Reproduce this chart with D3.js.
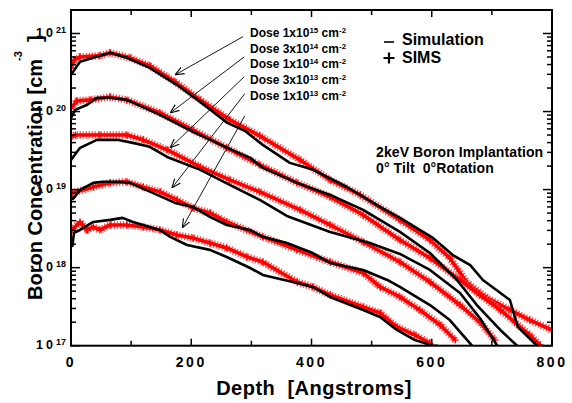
<!DOCTYPE html>
<html><head><meta charset="utf-8">
<script src="https://cdn.jsdelivr.net/npm/d3@7"></script>
<style>
body{margin:0;background:#fff}
text{font-family:"Liberation Sans",Arial,sans-serif;font-weight:bold;fill:#000}
</style>
</head><body>
<svg id="c" width="572" height="403"></svg>
<script>
// ---------- data ----------
const xTicks = [0, 200, 400, 600, 800];
const xMinorTicks = [100, 300, 500, 700];
const yDecades = [17, 18, 19, 20, 21];
const doses = [["1","15"],["3","14"],["1","14"],["3","13"],["1","13"]];

// Simulation (black lines): [depth Å, concentration cm^-3]
const sim1e15 = [[0,2.95e20],[15,4.34e20],[37,4.88e20],[65,5.66e20],[93,4.88e20],[131,3.63e20],[176,2.20e20],[215,1.33e20],[260,7.16e19],[289,5.66e19],[319,3.74e19],[364,2.20e19],[403,1.79e19],[459,1.08e19],[514,6.0e18],[547,4.34e18],[602,2.40e18],[635,1.45e18],[664,1.08e18],[685,6.95e17],[730,3.85e17],[743,1.74e17],[775,1e17]];
const sim3e14 = [[0,8.3e19],[7,1.05e20],[27,1.22e20],[43,1.50e20],[65,1.50e20],[93,1.41e20],[148,9.07e19],[203,5.49e19],[260,3.43e19],[298,2.55e19],[319,1.90e19],[376,1.22e19],[431,8.55e18],[486,5.49e18],[547,2.87e18],[597,1.54e18],[642,6.95e17],[675,3.32e17],[714,1.59e17],[742,1e17]];
const sim1e14 = [[0,2.40e19],[15,3.43e19],[43,4.34e19],[77,4.34e19],[103,3.97e19],[131,3.53e19],[160,2.62e19],[215,1.79e19],[264,1.15e19],[314,7.38e18],[359,4.6e18],[431,2.87e18],[497,2.07e18],[547,1.50e18],[597,9.35e17],[647,4.74e17],[680,2.26e17],[709,1e17]];
const sim3e13 = [[2,7.38e18],[15,9.9e18],[37,1.22e19],[53,1.26e19],[81,1.26e19],[98,1.22e19],[136,9.07e18],[173,6.75e18],[203,6.0e18],[231,4.47e18],[259,3.52e18],[298,3.04e18],[319,2.48e18],[359,2.07e18],[402,1.54e18],[431,1.15e18],[486,9.35e17],[526,6.95e17],[547,5.66e17],[597,3.32e17],[630,2.13e17],[667,1e17]];
const sim1e13 = [[2,1.84e18],[5,2.79e18],[15,3.04e18],[37,3.85e18],[65,4.09e18],[86,4.34e18],[103,3.85e18],[148,3.04e18],[165,2.48e18],[193,1.95e18],[231,1.69e18],[259,1.37e18],[298,9.9e17],[319,8.06e17],[376,6.37e17],[402,5.66e17],[431,4.21e17],[486,2.87e17],[514,2.33e17],[542,1.59e17],[572,1.18e17],[602,1e17],[610,1e17]];

// SIMS (red crosses): [depth Å, concentration cm^-3]
const sims1e15 = [[0,3.63e20],[5,4.6e20],[15,5.0e20],[48,5.2e20],[65,5.66e20],[98,4.88e20],[131,3.85e20],[173,2.40e20],[215,1.41e20],[264,7.83e19],[314,4.88e19],[381,2.40e19],[431,1.33e19],[481,8.55e18],[547,4.09e18],[597,2.26e18],[630,1.33e18],[659,6.37e17],[692,4.09e17],[730,2.87e17],[763,2.13e17],[800,1.59e17]];
const sims3e14 = [[0,1.11e20],[10,1.37e20],[32,1.41e20],[65,1.54e20],[93,1.41e20],[148,9.6e19],[203,5.8e19],[259,3.43e19],[314,2.07e19],[376,1.22e19],[431,8.06e18],[486,4.74e18],[547,2.26e18],[597,1.33e18],[647,6.95e17],[680,4.47e17],[714,2.87e17],[738,2.01e17],[763,1.37e17],[780,1.02e17]];
const sims1e14 = [[0,4.74e19],[7,5.0e19],[48,5.0e19],[93,5.0e19],[120,4.34e19],[160,3.23e19],[215,1.95e19],[264,1.33e19],[314,9.35e18],[381,5.49e18],[431,3.52e18],[486,2.13e18],[547,1.18e18],[597,6.55e17],[647,3.32e17],[680,2.01e17],[705,1.18e17]];
const sims3e13 = [[2,9.07e18],[37,1.08e19],[65,1.22e19],[93,1.26e19],[120,1.08e19],[148,9.35e18],[176,7.38e18],[203,5.82e18],[231,5.02e18],[259,3.85e18],[319,2.48e18],[376,1.69e18],[431,1.18e18],[486,8.55e17],[514,5.66e17],[547,4.21e17],[580,2.87e17],[614,1.84e17],[639,1.18e17]];
const sims1e13 = [[2,3.04e18],[15,3.85e18],[27,3.04e18],[37,3.32e18],[48,3.04e18],[65,3.52e18],[93,3.52e18],[120,3.32e18],[148,3.04e18],[176,2.62e18],[203,2.40e18],[231,2.07e18],[259,1.79e18],[293,1.37e18],[319,1.18e18],[376,6.55e17],[402,5.66e17],[431,4.47e17],[486,3.13e17],[514,2.62e17],[542,1.74e17],[572,1.37e17],[597,1.08e17]];

const simSeries = [sim1e15, sim3e14, sim1e14, sim3e13, sim1e13];
const simsSeries = [sims1e15, sims3e14, sims1e14, sims3e13, sims1e13];

// annotation arrows: label end -> curve point [depth, conc]
const arrowFrom = [[286,9.1e20],[288,5.0e20],[288,2.79e20],[289,1.69e20],[289,8.8e19]];
const arrowTo   = [[173,2.95e20],[165,9.6e19],[165,3.43e19],[168,1.05e19],[185,3.23e18]];

// ---------- drawing ----------
const svg = d3.select("#c");
const x = d3.scaleLinear().domain([0, 800]).range([71, 552]);
const y = d3.scaleLog().domain([1e17, 2e21]).range([345.7, 10]);

const defs = svg.append("defs");
defs.append("clipPath").attr("id","clip")
  .append("rect").attr("x",71).attr("y",10).attr("width",481).attr("height",335.7);

const line = d3.line().x(d => x(d[0])).y(d => y(d[1]));
const plot = svg.append("g").attr("clip-path","url(#clip)");

// SIMS bands (dense crosses look) + crosses at data points
simsSeries.forEach(s => {
  plot.append("path").attr("d", line(s)).attr("fill","none")
    .attr("stroke","#ff5050").attr("stroke-width",7.5).attr("stroke-dasharray","1.3,1.7")
    .attr("stroke-linejoin","round");
  plot.append("path").attr("d", line(s)).attr("fill","none")
    .attr("stroke","#ff0000").attr("stroke-width",3.6).attr("stroke-linejoin","round");
  plot.append("g").selectAll("path").data(s).join("path")
    .attr("transform", d => `translate(${x(d[0])},${y(d[1])})`)
    .attr("d","M-3.5,0H3.5M0,-3.5V3.5").attr("stroke","#ff0000").attr("stroke-width",1.4);
});
// Simulation lines
simSeries.forEach(s => {
  plot.append("path").attr("d", line(s)).attr("fill","none")
    .attr("stroke","#000").attr("stroke-width",2.6).attr("stroke-linejoin","round");
});

// frame
svg.append("rect").attr("x",71).attr("y",10).attr("width",481).attr("height",335.7)
  .attr("fill","none").attr("stroke","#000").attr("stroke-width",2);

// x ticks (inward, bottom & top)
const xt = svg.append("g");
xTicks.concat(xMinorTicks).forEach(v => {
  const len = xTicks.includes(v) ? 7 : 5;
  xt.append("line").attr("x1",x(v)).attr("x2",x(v)).attr("y1",345.7).attr("y2",345.7-len).attr("stroke","#000").attr("stroke-width",1.5);
  xt.append("line").attr("x1",x(v)).attr("x2",x(v)).attr("y1",10).attr("y2",10+len).attr("stroke","#000").attr("stroke-width",1.5);
});
xTicks.forEach(v => {
  svg.append("text").attr("x",x(v)).attr("y",367).attr("text-anchor","middle")
    .attr("font-size",14).attr("letter-spacing",2.5).text(v);
});

// y ticks (log, inward both sides)
const yt = svg.append("g");
yDecades.forEach(e => {
  for (let m = 1; m <= 9; m++) {
    const v = m * Math.pow(10, e);
    if (v > 2e21) continue;
    const len = m === 1 ? 9 : 5;
    yt.append("line").attr("x1",71).attr("x2",71+len).attr("y1",y(v)).attr("y2",y(v)).attr("stroke","#000").attr("stroke-width",1.5);
    yt.append("line").attr("x1",552).attr("x2",552-len).attr("y1",y(v)).attr("y2",y(v)).attr("stroke","#000").attr("stroke-width",1.5);
  }
});
yDecades.forEach(e => {
  const t = svg.append("text").attr("x",66).attr("y",y(Math.pow(10,e))+3.5).attr("text-anchor","end").attr("font-size",12.5);
  t.append("tspan").attr("letter-spacing",3).text("10");
  t.append("tspan").attr("font-size",9).attr("dy",-4).text(e);
});

// axis titles
svg.append("text").attr("x",314).attr("y",395).attr("text-anchor","middle").attr("font-size",20)
  .attr("letter-spacing",0.5).attr("xml:space","preserve").text("Depth  [Angstroms]");
const yl = svg.append("text").attr("transform","translate(42,300) rotate(-90)").attr("font-size",20);
yl.append("tspan").text("Boron Concentration [cm");
yl.append("tspan").attr("font-size",11).attr("dy",-20).attr("dx",-2).text("-3");
yl.append("tspan").attr("dy",20).attr("dx",9).text("]");

// legend
svg.append("line").attr("x1",384).attr("x2",394).attr("y1",42).attr("y2",42).attr("stroke","#000").attr("stroke-width",1.6);
svg.append("path").attr("d","M383.5,58H394.5M389,52.5V63.5").attr("stroke","#000").attr("stroke-width",2.2);
svg.append("text").attr("x",402).attr("y",45).attr("font-size",16).text("Simulation");
svg.append("text").attr("x",402).attr("y",63).attr("font-size",16).text("SIMS");

// process annotation
svg.append("text").attr("x",376).attr("y",157).attr("font-size",14).attr("letter-spacing",0.1).text("2keV Boron Implantation");
svg.append("text").attr("x",376).attr("y",173).attr("font-size",14).attr("letter-spacing",0.1).attr("xml:space","preserve").text("0° Tilt  0°Rotation");

// dose labels
const labY = [37, 53, 68, 84, 100];
doses.forEach((d, i) => {
  const t = svg.append("text").attr("x",250).attr("y",labY[i]).attr("font-size",12);
  t.append("tspan").text("Dose " + d[0] + "x10");
  t.append("tspan").attr("font-size",8).attr("dy",-4).text(d[1]);
  t.append("tspan").attr("dy",4).text(" cm");
  t.append("tspan").attr("font-size",8).attr("dy",-4).text("-2");
});

// arrows
defs.append("marker").attr("id","ah").attr("viewBox","0 0 10 10").attr("refX",10).attr("refY",5)
  .attr("markerWidth",9).attr("markerHeight",9).attr("markerUnits","userSpaceOnUse").attr("orient","auto")
  .append("path").attr("d","M0,1L10,5L0,9").attr("fill","none").attr("stroke","#000").attr("stroke-width",1.2);
arrowFrom.forEach((f, i) => {
  svg.append("line").attr("x1",x(f[0])).attr("y1",y(f[1])).attr("x2",x(arrowTo[i][0])).attr("y2",y(arrowTo[i][1]))
    .attr("stroke","#000").attr("stroke-width",0.9).attr("marker-end","url(#ah)");
});
</script>
</body></html>
